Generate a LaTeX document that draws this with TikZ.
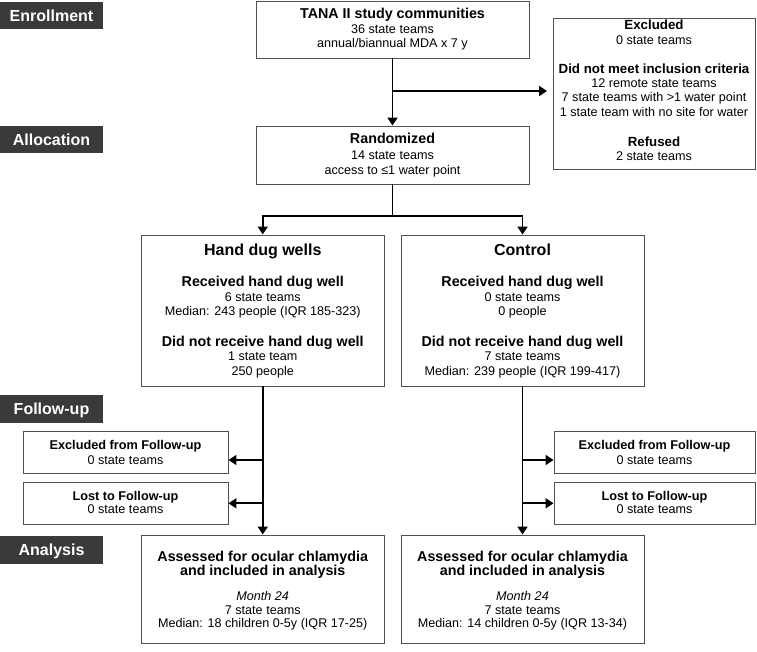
\documentclass[tikz,border=0pt]{standalone}
\usepackage{fontspec}
\setmainfont{Liberation Sans}
\usetikzlibrary{arrows.meta}
\definecolor{stagegray}{RGB}{58,58,58}
\definecolor{boxline}{RGB}{80,80,80}
\tikzset{
 box/.style={draw=boxline, line width=0.9pt, inner sep=0, fill=white},
 hd/.style={font=\fontsize{14.3}{16}\bfseries, anchor=base, inner sep=0},
 hds/.style={font=\fontsize{13.3}{15}\bfseries, anchor=base, inner sep=0},
 bd/.style={font=\fontsize{12.6}{14}\selectfont, anchor=base, inner sep=0},
 bdit/.style={font=\fontsize{12.6}{14}\itshape, anchor=base, inner sep=0},
 big/.style={font=\fontsize{16}{18}\bfseries, anchor=base, inner sep=0},
 sm/.style={font=\fontsize{12.7}{14}\bfseries, anchor=base, inner sep=0},
 stage/.style={fill=stagegray, text=white, font=\fontsize{16}{18}\bfseries, minimum width=103pt, minimum height=27.5pt, inner sep=0, text height=11.5pt, text depth=0pt},
 conn/.style={line width=1.7pt, -{Triangle[length=8pt,width=10pt]}},
 plain/.style={line width=1.7pt},
}
\begin{document}
\begin{tikzpicture}[x=1pt,y=-1pt]
\useasboundingbox (0,0) rectangle (757,652);
% stage labels
\node[stage] (sEnr) at (51.5,15.5) {Enrollment};
\node[stage] (sAll) at (51.5,139.7) {Allocation};
\node[stage] (sFol) at (51.5,409) {Follow-up};
\node[stage] (sAna) at (51.5,550) {Analysis};
% boxes
\node[box, minimum width=273pt, minimum height=57pt] (tana) at (392.5,29.5) {};
\node[box, minimum width=273pt, minimum height=58pt] (rand) at (392.5,155) {};
\node[box, minimum width=202pt, minimum height=151pt] (excl) at (654,93.5) {};
\node[box, minimum width=242.5pt, minimum height=151pt] (hand) at (262.75,310.5) {};
\node[box, minimum width=243pt, minimum height=151pt] (ctrl) at (522.5,310.5) {};
\node[box, minimum width=205pt, minimum height=42pt] (exl1) at (125.5,452) {};
\node[box, minimum width=205pt, minimum height=42pt] (lost1) at (125.5,503.3) {};
\node[box, minimum width=201pt, minimum height=42pt] (exl2) at (654.5,452) {};
\node[box, minimum width=201pt, minimum height=42pt] (lost2) at (654.5,503.3) {};
\node[box, minimum width=242.5pt, minimum height=108pt] (ana1) at (262.75,589) {};
\node[box, minimum width=243pt, minimum height=108pt] (ana2) at (522.5,589) {};
% texts: TANA
\node[hd] (t1) at (392.5,19) {TANA II study communities};
\node[bd] (t2) at (392.5,33.5) {36 state teams};
\node[bd] (t3) at (392.5,47.5) {annual/biannual MDA x 7 y};
% Randomized
\node[hd] (r1) at (392.5,143.3) {Randomized};
\node[bd] (r2) at (392.5,159.5) {14 state teams};
\node[bd] (r3) at (392.5,174.3) {access to ≤1 water point};
% Excluded
\node[hds] (e1) at (654,29.8) {Excluded};
\node[bd] (e2) at (654,44.5) {0 state teams};
\node[hds] (e3) at (654,73.8) {Did not meet inclusion criteria};
\node[bd] (e4) at (654,87.7) {12 remote state teams};
\node[bd] (e5) at (654,101.8) {7 state teams with >1 water point};
\node[bd] (e6) at (654,116.2) {1 state team with no site for water};
\node[hds] (e7) at (654,146.8) {Refused};
\node[bd] (e8) at (654,160.5) {2 state teams};
% Hand dug wells
\node[big] (h1) at (262.75,255.8) {Hand dug wells};
\node[hd] (h2) at (262.75,286.8) {Received hand dug well};
\node[bd] (h3) at (262.75,301.2) {6 state teams};
\node[bd] (h4) at (262.75,315.2) {Median: 243 people (IQR 185-323)};
\node[hd] (h5) at (262.75,346.8) {Did not receive hand dug well};
\node[bd] (h6) at (262.75,360.8) {1 state team};
\node[bd] (h7) at (262.75,375.2) {250 people};
% Control
\node[big] (c1) at (522.5,255.8) {Control};
\node[hd] (c2) at (522.5,286.8) {Received hand dug well};
\node[bd] (c3) at (522.5,301.2) {0 state teams};
\node[bd] (c4) at (522.5,315.2) {0 people};
\node[hd] (c5) at (522.5,346.8) {Did not receive hand dug well};
\node[bd] (c6) at (522.5,360.8) {7 state teams};
\node[bd] (c7) at (522.5,375.2) {Median: 239 people (IQR 199-417)};
% Follow-up boxes
\node[sm] (f1) at (125.5,449.6) {Excluded from Follow-up};
\node[bd] (f2) at (125.5,464.5) {0 state teams};
\node[sm] (f3) at (125.5,500.3) {Lost to Follow-up};
\node[bd] (f4) at (125.5,513.8) {0 state teams};
\node[sm] (g1) at (654.5,449.6) {Excluded from Follow-up};
\node[bd] (g2) at (654.5,464.5) {0 state teams};
\node[sm] (g3) at (654.5,500.3) {Lost to Follow-up};
\node[bd] (g4) at (654.5,513.8) {0 state teams};
% Analysis
\node[hd] (a1) at (262.75,561.1) {Assessed for ocular chlamydia};
\node[hd] (a2) at (262.75,575.6) {and included in analysis};
\node[bdit] (a3) at (262.75,600.5) {Month 24};
\node[bd] (a4) at (262.75,614) {7 state teams};
\node[bd] (a5) at (262.75,627.5) {Median: 18 children 0-5y (IQR 17-25)};
\node[hd] (b1) at (522.5,561.1) {Assessed for ocular chlamydia};
\node[hd] (b2) at (522.5,575.6) {and included in analysis};
\node[bdit] (b3) at (522.5,600.5) {Month 24};
\node[bd] (b4) at (522.5,614) {7 state teams};
\node[bd] (b5) at (522.5,627.5) {Median: 14 children 0-5y (IQR 13-34)};
% connectors
\draw[conn] (tana.south) -- (rand.north);
\coordinate (br) at (392.5,91);
\draw[conn, shorten >=5.5pt] (br) -- (br -| excl.west);
\coordinate (split) at (392.5,215.7);
\draw[plain] (rand.south) -- (split);
\draw[line width=1.7pt, {Triangle[length=8pt,width=10pt]}-{Triangle[length=8pt,width=10pt]}] (hand.north) |- (split) -| (ctrl.north);
\draw[conn] (hand.south) -- (ana1.north);
\draw[conn] (ctrl.south) -- (ana2.north);
\path (exl1.east) ++(0,8) coordinate (ea1);
\path (exl2.west) ++(0,8) coordinate (ea2);
\draw[conn] (hand.south |- ea1) -- (ea1);
\draw[conn] (hand.south |- lost1.east) -- (lost1.east);
\draw[conn] (ctrl.south |- ea2) -- (ea2);
\draw[conn] (ctrl.south |- lost2.west) -- (lost2.west);
\end{tikzpicture}
\end{document}
